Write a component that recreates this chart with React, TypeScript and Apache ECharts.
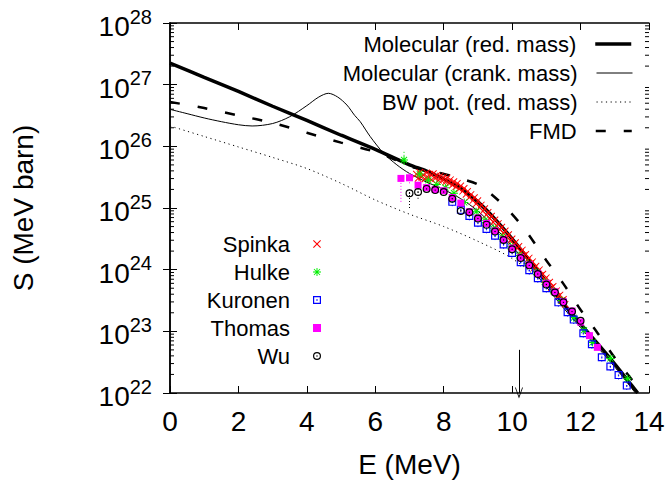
import React, { useEffect, useRef } from "react";
import * as echarts from "echarts";

const FONT = '"Liberation Sans", Arial, Helvetica, sans-serif';

// All y values below are log10(S / MeV barn); x is E in MeV.
const molecularRedMass = [
  [0, 27.35], [1, 27.12], [2, 26.89], [3, 26.65], [4, 26.42], [5, 26.18], [6, 25.95],
  [7, 25.7], [7.5, 25.6], [8, 25.47], [8.5, 25.32], [9, 25.1], [9.5, 24.82], [10, 24.5],
  [10.5, 24.15], [11, 23.8], [11.5, 23.45], [12, 23.12], [12.5, 22.8], [13, 22.47],
  [13.5, 22.12], [13.67, 22.0],
];
const molecularCrankMass = [
  [0, 26.6], [0.5, 26.53], [1, 26.46], [1.5, 26.4], [2, 26.35], [2.4, 26.33], [3, 26.37],
  [3.5, 26.48], [4, 26.66], [4.35, 26.8], [4.63, 26.86], [4.9, 26.8], [5.17, 26.67],
  [5.4, 26.5], [5.56, 26.4], [5.85, 26.16], [6.24, 25.89], [6.63, 25.7], [7, 25.56],
  [7.5, 25.42], [8, 25.3], [8.5, 25.15], [9, 24.95], [9.5, 24.68], [10, 24.38],
  [10.5, 24.06], [11, 23.72], [11.5, 23.38], [12, 23.06], [12.5, 22.74], [13, 22.42],
  [13.6, 22.0],
];
const bwPotRedMass = [
  [0, 26.33], [1, 26.16], [2, 25.99], [3, 25.82], [4, 25.64], [5, 25.4], [6, 25.13],
  [7, 24.9], [8, 24.7], [9, 24.46], [10, 24.18], [11, 23.74], [12, 23.14], [13, 22.48],
  [13.65, 22.0],
];
const fmd = [
  [0, 26.72], [1, 26.62], [2, 26.5], [3, 26.38], [4, 26.22], [5, 26.06], [6, 25.91],
  [6.5, 25.8], [7.1, 25.66], [7.8, 25.58], [8.6, 25.46], [9.0, 25.38], [9.4, 25.22],
  [9.9, 24.96], [10.4, 24.63], [11.0, 24.15], [11.5, 23.77], [12.0, 23.35], [12.5, 22.97],
  [13.0, 22.57], [13.45, 22.25], [13.8, 22.0],
];

const spinka = [
  [7.2, 25.55], [7.25, 25.48], [7.3, 25.58], [7.35, 25.5], [7.4, 25.54], [7.45, 25.47],
  [7.5, 25.57], [7.55, 25.49], [7.6, 25.55], [7.65, 25.46], [7.7, 25.56], [7.75, 25.48],
  [7.8, 25.53], [7.85, 25.45], [7.9, 25.52], [7.95, 25.44], [8.0, 25.5], [8.05, 25.42],
  [8.1, 25.49], [8.15, 25.4], [8.2, 25.46], [8.25, 25.37], [8.3, 25.43], [8.35, 25.34],
  [8.4, 25.4], [8.45, 25.31], [8.5, 25.36], [8.55, 25.27], [8.6, 25.32], [8.65, 25.22],
  [8.7, 25.27], [8.75, 25.17], [8.8, 25.22], [8.85, 25.12], [8.9, 25.17], [8.95, 25.07],
  [9.0, 25.12], [9.05, 25.01], [9.1, 25.05], [9.15, 24.95], [9.2, 24.99], [9.25, 24.89],
  [9.3, 24.93], [9.35, 24.83], [9.4, 24.87], [9.45, 24.77], [9.5, 24.81], [9.55, 24.71],
  [9.6, 24.75], [9.65, 24.65], [9.7, 24.69], [9.75, 24.59], [9.8, 24.63], [9.85, 24.53],
  [9.9, 24.57], [9.95, 24.47], [10.0, 24.5], [10.05, 24.41], [10.1, 24.44], [10.15, 24.35],
  [10.2, 24.38], [10.25, 24.29], [10.3, 24.32], [10.35, 24.23], [10.4, 24.25], [10.45, 24.16],
  [10.5, 24.19], [10.55, 24.1], [10.6, 24.13], [10.65, 24.03], [10.7, 24.06], [10.75, 23.97],
  [10.8, 24.0], [10.85, 23.91], [10.9, 23.93], [10.95, 23.84], [11.0, 23.87], [11.05, 23.78],
  [11.1, 23.8], [11.15, 23.71], [11.2, 23.73], [11.25, 23.64], [11.3, 23.66], [11.35, 23.57],
  [11.4, 23.59], [11.45, 23.5], [11.5, 23.52], [11.55, 23.44],
];
const hulke = [
  [6.84, 25.78], [7.3, 25.55], [7.55, 25.45], [7.8, 25.38], [8.05, 25.33], [8.3, 25.24],
  [8.6, 25.09], [8.95, 24.94], [9.2, 24.8], [9.45, 24.67], [9.7, 24.53], [9.95, 24.38],
  [10.2, 24.23], [10.45, 24.1], [10.7, 23.96], [10.95, 23.8], [11.2, 23.65], [11.45, 23.5],
  [11.8, 23.22], [12.1, 23.02], [12.35, 22.82], [12.87, 22.56], [13.37, 22.23],
];
const hulkeErr = [[6.84, 25.7, 25.92], [7.3, 25.5, 25.62]];
const kuronen = [
  [8.25, 25.1], [8.5, 24.97], [8.75, 24.87], [9.0, 24.76], [9.25, 24.66], [9.5, 24.55],
  [9.75, 24.41], [10.0, 24.27], [10.25, 24.12], [10.5, 23.99], [10.75, 23.86], [11.0, 23.7],
  [11.35, 23.47], [11.62, 23.31], [11.8, 23.19], [12.08, 22.97], [12.33, 22.79],
  [12.62, 22.58], [12.87, 22.43], [13.11, 22.29], [13.35, 22.12],
];
const kuronenErr = [
  [8.25, 25.03, 25.14], [8.5, 24.9, 25.0], [8.75, 24.8, 24.9], [9.0, 24.69, 24.8],
  [9.25, 24.59, 24.7], [9.5, 24.48, 24.58], [9.75, 24.34, 24.45], [10.0, 24.2, 24.3],
  [10.25, 24.05, 24.15], [10.5, 23.92, 24.02], [10.75, 23.79, 23.9], [11.0, 23.63, 23.73],
  [11.35, 23.4, 23.5], [11.62, 23.24, 23.34], [11.8, 23.12, 23.22], [12.08, 22.9, 23.0],
  [12.33, 22.72, 22.82], [12.62, 22.51, 22.61], [12.87, 22.36, 22.46], [13.11, 22.22, 22.32],
  [13.35, 22.05, 22.15],
];
const thomas = [
  [6.75, 25.48], [7.0, 25.49], [7.25, 25.37], [7.5, 25.33], [7.75, 25.3], [8.0, 25.28],
  [8.25, 25.17], [8.5, 25.08], [8.75, 24.94], [9.0, 24.84], [9.25, 24.75], [9.5, 24.63],
  [9.75, 24.49], [10.0, 24.35], [10.25, 24.2], [10.5, 24.08], [10.75, 23.94], [11.0, 23.78],
  [11.25, 23.64], [11.5, 23.48], [11.75, 23.33], [12.0, 23.15], [12.26, 22.93], [12.49, 22.74],
];
const thomasErr = [[6.75, 25.1, 25.5], [7.0, 25.4, 25.56]];
const wu = [
  [7.0, 25.24], [7.25, 25.26], [7.5, 25.31], [7.75, 25.29], [8.0, 25.26], [8.25, 25.15],
  [8.5, 24.95], [8.75, 24.93], [9.0, 24.83], [9.25, 24.73], [9.5, 24.62], [9.75, 24.48],
  [10.0, 24.33], [10.25, 24.19], [10.5, 24.07], [10.75, 23.93], [11.0, 23.76], [11.25, 23.63],
  [11.5, 23.47], [11.75, 23.32], [12.0, 23.17],
];
const wuErr = [[7.0, 25.0, 25.3], [7.25, 25.15, 25.32]];

// Arrow marking E = 10.2 MeV: from log S 22.7 down to the axis (22)
const arrowAt = { x: 10.2, fromLog: 22.7, toLog: 22 };

const xTicks = [0, 2, 4, 6, 8, 10, 12, 14];
const yExponents = [22, 23, 24, 25, 26, 27, 28];

const toVal = (pts: number[][]) => pts.map(([x, l]) => [x, Math.pow(10, l)]);
const toErr = (pts: number[][]) =>
  pts.map(([x, lo, hi]) => [x, Math.pow(10, lo), Math.pow(10, hi)]);

const SYM_X =
  "path://M0.8,1.6L1.6,0.8L9.2,8.4L8.4,9.2Z M8.4,0.8L9.2,1.6L1.6,9.2L0.8,8.4Z";
const SYM_STAR =
  "path://M4.4,0H5.6V10H4.4Z M0,4.4H10V5.6H0Z M0.8,1.6L1.6,0.8L9.2,8.4L8.4,9.2Z M8.4,0.8L9.2,1.6L1.6,9.2L0.8,8.4Z";
const SYM_BOX =
  "path://M0,0H10V10H0Z M1.5,1.5V8.5H8.5V1.5Z M4.2,4.2H5.8V5.8H4.2Z";
const SYM_CIRC =
  "path://M0,5A5,5,0,1,1,10,5A5,5,0,1,1,0,5Z M1.5,5A3.5,3.5,0,1,0,8.5,5A3.5,3.5,0,1,0,1.5,5Z M4.1,5A0.9,0.9,0,1,1,5.9,5A0.9,0.9,0,1,1,4.1,5Z";
const SYM_ARROW = "path://M0,10L5,0L10,10L9,10L5,2.2L1,10Z";

function errSeries(name: string, data: number[][], color: string, z: number) {
  return {
    name,
    type: "custom",
    silent: true,
    z,
    data: toErr(data),
    renderItem: (_p: any, api: any) => {
      const x = api.value(0);
      const a = api.coord([x, api.value(1)]);
      const b = api.coord([x, api.value(2)]);
      return {
        type: "line",
        shape: { x1: a[0], y1: a[1], x2: b[0], y2: b[1] },
        style: { stroke: color, lineWidth: 1, lineDash: [1, 2] },
      };
    },
  };
}

export default function App() {
  const ref = useRef<HTMLDivElement>(null);
  useEffect(() => {
    if (!ref.current) return;
    const chart = echarts.init(ref.current, undefined, { renderer: "svg" });

    const minorTicks: number[][] = [];
    for (let i = 0; i < yExponents.length - 1; i++) {
      for (let m = 2; m <= 9; m++) minorTicks.push([0, m * Math.pow(10, yExponents[i])]);
    }

    const axisLineStyle = { color: "#000", width: 1.5 };
    const tickStyle = { color: "#000", width: 1 };

    const lineLegend = (name: string, top: number, width: number) => ({
      data: [name],
      right: 37,
      top,
      orient: "horizontal",
      align: "right",
      padding: 0,
      itemWidth: 36,
      itemHeight: 12,
      selectedMode: false,
      itemStyle: { opacity: 0 },
      lineStyle: { width },
      textStyle: { fontSize: 22, fontFamily: FONT, color: "#000", padding: [0, 14, 0, 0] },
    });
    const ptLegend = (name: string, top: number) => ({
      data: [name],
      right: 349,
      top,
      orient: "horizontal",
      align: "right",
      padding: 0,
      itemWidth: 8,
      itemHeight: 8,
      selectedMode: false,
      textStyle: { fontSize: 22, fontFamily: FONT, color: "#000", padding: [0, 18, 0, 0] },
    });

    const option: any = {
      animation: false,
      backgroundColor: "#fff",
      textStyle: { fontFamily: FONT },
      grid: { left: 170, right: 21, top: 23, bottom: 92 },
      legend: [
        lineLegend("Molecular (red. mass)", 33, 3.5),
        lineLegend("Molecular (crank. mass)", 62, 1),
        lineLegend("BW pot. (red. mass)", 91, 1),
        lineLegend("FMD", 120, 2.5),
        ptLegend("Spinka", 233),
        ptLegend("Hulke", 261),
        ptLegend("Kuronen", 289),
        ptLegend("Thomas", 317),
        ptLegend("Wu", 345),
      ],
      xAxis: [
        {
          type: "value",
          min: xTicks[0],
          max: xTicks[xTicks.length - 1],
          interval: xTicks[1] - xTicks[0],
          position: "bottom",
          axisLine: { show: true, lineStyle: axisLineStyle },
          axisTick: { show: true, inside: true, length: 7, lineStyle: tickStyle },
          axisLabel: { fontSize: 28, margin: 14, color: "#000", fontFamily: FONT },
          splitLine: { show: false },
          name: "E (MeV)",
          nameLocation: "middle",
          nameGap: 57,
          nameTextStyle: { fontSize: 28, color: "#000", fontFamily: FONT },
        },
        {
          type: "value",
          min: xTicks[0],
          max: xTicks[xTicks.length - 1],
          interval: xTicks[1] - xTicks[0],
          position: "top",
          axisLine: { show: true, lineStyle: axisLineStyle },
          axisTick: { show: true, inside: true, length: 7, lineStyle: tickStyle },
          axisLabel: { show: false },
          splitLine: { show: false },
        },
      ],
      yAxis: [
        {
          type: "log",
          logBase: 10,
          min: Math.pow(10, yExponents[0]),
          max: Math.pow(10, yExponents[yExponents.length - 1]),
          position: "left",
          axisLine: { show: true, lineStyle: axisLineStyle },
          axisTick: { show: true, inside: true, length: 7, lineStyle: tickStyle },
          splitLine: { show: false },
          axisLabel: {
            margin: 18,
            padding: [7, 0, 0, 0],
            formatter: (v: number) => `{b|10}{s|${Math.round(Math.log10(v))}}`,
            rich: {
              b: { fontSize: 28, lineHeight: 40, fontFamily: FONT, color: "#000" },
              s: { fontSize: 20, lineHeight: 20, verticalAlign: "top", fontFamily: FONT, color: "#000" },
            },
          },
          name: "S (MeV barn)",
          nameLocation: "middle",
          nameGap: 133,
          nameTextStyle: { fontSize: 28, color: "#000", fontFamily: FONT },
        },
        {
          type: "log",
          logBase: 10,
          min: Math.pow(10, yExponents[0]),
          max: Math.pow(10, yExponents[yExponents.length - 1]),
          position: "right",
          axisLine: { show: true, lineStyle: axisLineStyle },
          axisTick: { show: true, inside: true, length: 7, lineStyle: tickStyle },
          splitLine: { show: false },
          axisLabel: { show: false },
        },
      ],
      series: [
        {
          name: "minorTicks",
          type: "custom",
          silent: true,
          clip: false,
          data: minorTicks,
          renderItem: (params: any, api: any) => {
            const y = api.coord([0, api.value(1)])[1];
            const cs = params.coordSys;
            return {
              type: "group",
              children: [
                { type: "line", shape: { x1: cs.x, y1: y, x2: cs.x + 4, y2: y }, style: { stroke: "#000", lineWidth: 1 } },
                { type: "line", shape: { x1: cs.x + cs.width, y1: y, x2: cs.x + cs.width - 4, y2: y }, style: { stroke: "#000", lineWidth: 1 } },
              ],
            };
          },
        },
        {
          name: "Molecular (red. mass)",
          type: "line",
          symbol: "none",
          smooth: 0.3,
          data: toVal(molecularRedMass),
          lineStyle: { color: "#000", width: 3.5 },
          itemStyle: { color: "#000" },
          z: 2,
          markLine: {
            silent: true,
            symbol: ["none", SYM_ARROW],
            symbolSize: [8, 11],
            label: { show: false },
            lineStyle: { color: "#000", width: 1, type: "solid" },
            data: [
              [
                { coord: [arrowAt.x, Math.pow(10, arrowAt.fromLog)] },
                { coord: [arrowAt.x, Math.pow(10, arrowAt.toLog)] },
              ],
            ],
          },
        },
        {
          name: "Molecular (crank. mass)",
          type: "line",
          symbol: "none",
          smooth: 0.3,
          data: toVal(molecularCrankMass),
          lineStyle: { color: "#000", width: 1 },
          itemStyle: { color: "#000" },
          z: 2,
        },
        {
          name: "BW pot. (red. mass)",
          type: "line",
          symbol: "none",
          smooth: 0.3,
          data: toVal(bwPotRedMass),
          lineStyle: { color: "#000", width: 1, type: [1.2, 3.5] },
          itemStyle: { color: "#000" },
          z: 2,
        },
        {
          name: "FMD",
          type: "line",
          symbol: "none",
          smooth: 0.3,
          data: toVal(fmd),
          lineStyle: { color: "#000", width: 2.5, type: [10, 18] },
          itemStyle: { color: "#000" },
          z: 2,
        },
        errSeries("errHulke", hulkeErr, "#00dd00", 3),
        errSeries("errKuronen", kuronenErr, "#0000ff", 3),
        errSeries("errThomas", thomasErr, "#ff00ff", 3),
        errSeries("errWu", wuErr, "#000", 3),
        {
          name: "Spinka",
          type: "scatter",
          symbol: SYM_X,
          symbolSize: 7,
          data: toVal(spinka),
          itemStyle: { color: "#ff0000", opacity: 1 },
          z: 4,
        },
        {
          name: "Hulke",
          type: "scatter",
          symbol: SYM_STAR,
          symbolSize: 8,
          data: toVal(hulke),
          itemStyle: { color: "#00ee00", opacity: 1 },
          z: 5,
        },
        {
          name: "Kuronen",
          type: "scatter",
          symbol: SYM_BOX,
          symbolSize: 8,
          data: toVal(kuronen),
          itemStyle: { color: "#0000ff", opacity: 1 },
          z: 6,
        },
        {
          name: "Thomas",
          type: "scatter",
          symbol: "rect",
          symbolSize: 7,
          data: toVal(thomas),
          itemStyle: { color: "#ff00ff", opacity: 1 },
          z: 7,
        },
        {
          name: "Wu",
          type: "scatter",
          symbol: SYM_CIRC,
          symbolSize: 8,
          data: toVal(wu),
          itemStyle: { color: "#000", opacity: 1 },
          z: 8,
        },
      ],
    };
    chart.setOption(option);
    return () => chart.dispose();
  }, []);
  return (
    <div
      ref={ref}
      style={{ position: "fixed", left: 0, top: 0, width: 670, height: 485, background: "#fff" }}
    />
  );
}
